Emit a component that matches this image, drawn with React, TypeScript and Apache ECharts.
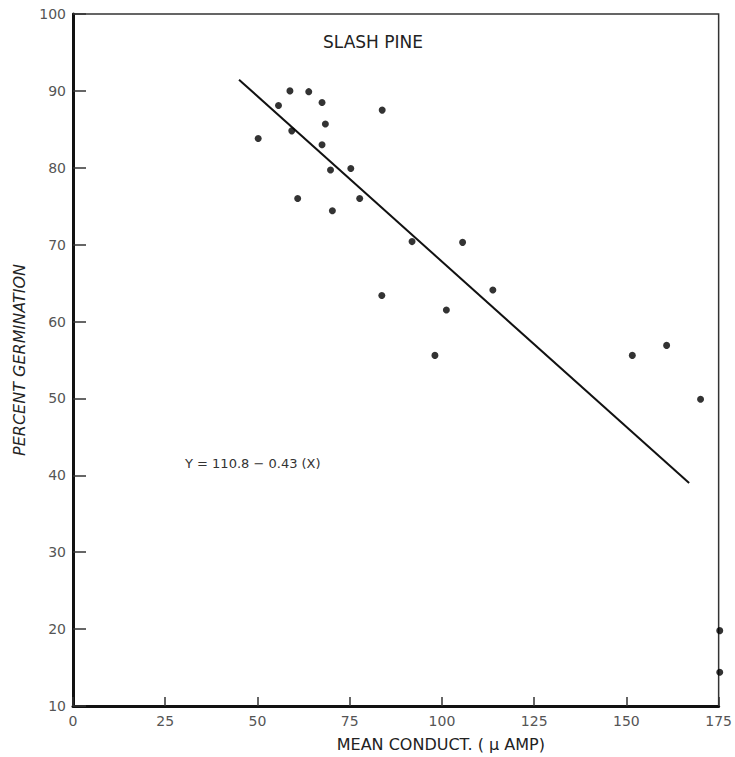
import React, { useEffect, useRef } from "react";
import * as echarts from "echarts";

const conductance = [58.8, 63.9, 55.7, 67.5, 83.8, 68.4, 59.3, 50.2, 67.5, 69.8, 75.3, 60.9, 77.7, 70.3, 91.9, 105.6, 113.8, 83.7, 101.2, 98.1, 151.6, 160.9, 170.1, 175.3, 175.3];
const germination = [90.0, 89.9, 88.1, 88.5, 87.5, 85.7, 84.8, 83.8, 83.0, 79.7, 79.9, 76.0, 76.0, 74.4, 70.4, 70.3, 64.1, 63.4, 61.5, 55.6, 55.6, 56.9, 49.9, 19.8, 14.4];
const intercept = 110.8;
const slope = -0.43;
const lineRange = [45, 167];
const xTicks = [0, 25, 50, 75, 100, 125, 150, 175];
const yTicks = [10, 20, 30, 40, 50, 60, 70, 80, 90, 100];
const title = "SLASH PINE";
const equation = "Y = 110.8 − 0.43 (X)";
const xName = "MEAN CONDUCT. ( μ AMP)";
const yName = "PERCENT GERMINATION";

export default function App() {
  const ref = useRef<HTMLDivElement>(null);
  useEffect(() => {
    if (!ref.current) return;
    const chart = echarts.init(ref.current, undefined, { renderer: "svg" });
    const font = "DejaVu Sans";
    const ink = "#222";
    const labelColor = "#555";
    chart.setOption({
      animation: false,
      backgroundColor: "#fff",
      textStyle: { fontFamily: font },
      grid: {
        left: 73,
        top: 14,
        right: 16,
        bottom: 48,
        show: true,
        borderColor: "#333",
        borderWidth: 1.5,
      },
      title: {
        text: title,
        left: 368,
        top: 28,
        textAlign: "center",
        textStyle: { fontFamily: font, fontSize: 17, fontWeight: "normal", color: ink },
      },
      xAxis: {
        type: "value",
        min: xTicks[0],
        max: xTicks[xTicks.length - 1],
        interval: 25,
        name: xName,
        nameLocation: "middle",
        nameGap: 30,
        nameTextStyle: { fontFamily: font, fontSize: 16, color: ink, padding: [0, 0, 0, 90] },
        axisLine: { show: true, lineStyle: { color: "#111", width: 3 } },
        axisTick: { show: true, inside: true, length: 9, lineStyle: { color: "#333", width: 1.5 } },
        axisLabel: { fontFamily: font, fontSize: 14, color: labelColor, margin: 8 },
        splitLine: { show: false },
      },
      yAxis: {
        type: "value",
        min: yTicks[0],
        max: yTicks[yTicks.length - 1],
        interval: 10,
        name: yName,
        nameLocation: "middle",
        nameGap: 46,
        nameRotate: 90,
        nameTextStyle: { fontFamily: font, fontSize: 16, fontStyle: "italic", color: ink },
        axisLine: { show: true, lineStyle: { color: "#111", width: 3 } },
        axisTick: { show: true, inside: true, length: 13, lineStyle: { color: "#333", width: 1.5 } },
        axisLabel: { fontFamily: font, fontSize: 14, color: labelColor, margin: 7 },
        splitLine: { show: false },
      },
      graphic: [
        {
          type: "text",
          left: 185,
          top: 457,
          style: { text: equation, fontFamily: font, fontSize: 13, fill: "#333" },
        },
      ],
      series: [
        {
          type: "line",
          data: lineRange.map((x) => [x, intercept + slope * x]),
          symbol: "none",
          lineStyle: { color: "#111", width: 2 },
          z: 2,
        },
        {
          type: "scatter",
          data: conductance.map((x, i) => [x, germination[i]]),
          symbol: "circle",
          symbolSize: 7,
          clip: false,
          itemStyle: { color: "#000" },
          z: 3,
        },
      ],
    });
    return () => chart.dispose();
  }, []);
  return <div ref={ref} style={{ width: 735, height: 757, position: "absolute", left: 0, top: 0 }} />;
}
